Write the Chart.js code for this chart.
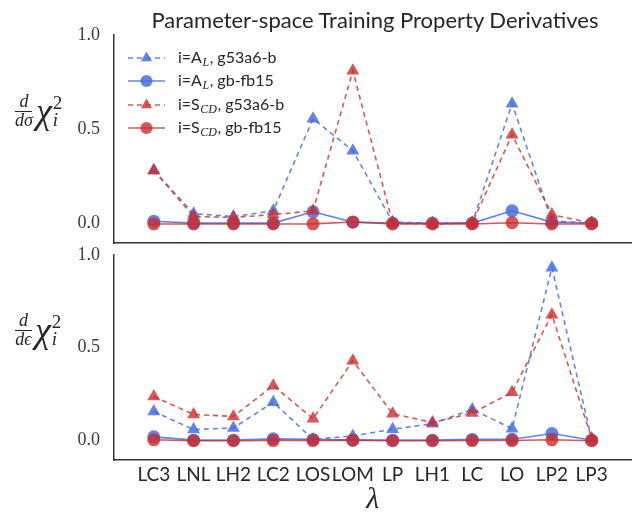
<!DOCTYPE html>
<html>
<head>
<meta charset="utf-8">
<script src="https://cdn.jsdelivr.net/npm/chart.js@4"></script>
<style>
body { margin: 0; background: #fff; width: 639px; height: 515px; position: relative; overflow: hidden; }
canvas { position: absolute; left: 0; }
#topChart { top: 0; }
#bottomChart { top: 238px; }
.title { position: absolute; top: 6px; left: 114px; width: 522px; text-align: center; font: 22px Lato, sans-serif; color: #262626; }
.ylab { position: absolute; display: flex; align-items: center; font-family: "Liberation Serif", serif; font-style: italic; color: #262626; }
.frac { display: inline-flex; flex-direction: column; align-items: center; font-size: 18px; line-height: 17px; }
.num { border-bottom: 1.2px solid #262626; padding: 0 4px 1px; }
.chi { font-size: 36px; margin-left: 3px; }
.ss { display: inline-flex; flex-direction: column; font-size: 19px; line-height: 17px; margin-left: 1px; }
</style>
</head>
<body>
<canvas id="topChart" width="639" height="260"></canvas>
<canvas id="bottomChart" width="639" height="277"></canvas>
<div class="title">Parameter-space Training Property Derivatives</div>
<div class="ylab" style="left:15px; top:90px;">
  <span class="frac"><span class="num">d</span><span>dσ</span></span><span class="chi">χ</span><span class="ss"><span style="font-style:normal">2</span><span>i</span></span>
</div>
<div class="ylab" style="left:15px; top:309px;">
  <span class="frac"><span class="num">d</span><span>dϵ</span></span><span class="chi">χ</span><span class="ss"><span style="font-style:normal">2</span><span>i</span></span>
</div>
<script>
// ------------------ DATA ------------------
const labels = ["LC3", "LNL", "LH2", "LC2", "LOS", "LOM", "LP", "LH1", "LC", "LO", "LP2", "LP3"];
const yTicks = [0, 0.5, 1.0];

// d/dsigma panel
const sigmaAL_g53 = [0.28, 0.05, 0.035, 0.065, 0.555, 0.385, 0.005, 0, 0, 0.635, 0.01, 0];
const sigmaAL_gb = [0.01, 0, 0, 0, 0.06, 0.005, 0, 0, 0, 0.065, 0.005, 0];
const sigmaSCD_g53 = [0.28, 0.035, 0.03, 0.045, 0.065, 0.81, 0, -0.005, 0, 0.47, 0.045, 0];
const sigmaSCD_gb = [-0.005, -0.005, -0.005, -0.005, -0.004, 0.006, -0.005, -0.005, -0.005, 0.002, -0.005, -0.005];

// d/depsilon panel
const epsAL_g53 = [0.155, 0.057, 0.066, 0.205, 0.004, 0.023, 0.059, 0.089, 0.166, 0.062, 0.93, 0.004];
const epsAL_gb = [0.018, 0, 0, 0.007, 0.004, 0, 0, 0, 0.004, 0.005, 0.036, 0];
const epsSCD_g53 = [0.235, 0.139, 0.128, 0.294, 0.116, 0.428, 0.143, 0.095, 0.146, 0.258, 0.677, 0.009];
const epsSCD_gb = [0.002, -0.003, -0.003, -0.002, -0.002, 0, -0.003, -0.003, -0.002, -0.002, 0.002, -0.003];

// ------------------ STYLE ------------------
const BLUE = "rgba(65, 105, 225, 0.82)";
const RED = "rgba(205, 45, 45, 0.8)";
const SPINE = "#333333";

const legendItems = [
    { color: BLUE, dashed: true, marker: "triangle", main: "i=A", sub: "L", rest: ", g53a6-b" },
    { color: BLUE, dashed: false, marker: "circle", main: "i=A", sub: "L", rest: ", gb-fb15" },
    { color: RED, dashed: true, marker: "triangle", main: "i=S", sub: "CD", rest: ", g53a6-b" },
    { color: RED, dashed: false, marker: "circle", main: "i=S", sub: "CD", rest: ", gb-fb15" }
];

function toPoints(values) {
    return values.map((v, i) => ({ x: i, y: v }));
}

function makeDatasets(alG53, alGb, scdG53, scdGb) {
    const series = [alG53, alGb, scdG53, scdGb];
    return series.map((values, idx) => {
        const item = legendItems[idx];
        return {
            data: toPoints(values),
            borderColor: item.color,
            backgroundColor: item.color,
            borderWidth: 1.6,
            borderDash: item.dashed ? [5, 4] : [],
            pointStyle: item.marker,
            pointRadius: item.marker === "triangle" ? 7.5 : 6.5,
            pointBorderWidth: 0,
            pointBackgroundColor: item.color,
            tension: 0,
            order: 3 - idx
        };
    });
}

// legend drawn by hand so the subscripts can be rendered
const legendPlugin = {
    id: "handLegend",
    afterDraw(chart) {
        const ctx = chart.ctx;
        const rowsY = [58, 81, 105, 128];
        legendItems.forEach((item, i) => {
            const y = rowsY[i];
            ctx.save();
            ctx.strokeStyle = item.color;
            ctx.fillStyle = item.color;
            ctx.lineWidth = 1.6;
            ctx.setLineDash(item.dashed ? [5, 4] : []);
            ctx.beginPath();
            ctx.moveTo(128, y);
            ctx.lineTo(165, y);
            ctx.stroke();
            ctx.setLineDash([]);
            Chart.helpers.drawPoint(ctx, {
                pointStyle: item.marker,
                radius: item.marker === "triangle" ? 6.5 : 6,
                rotation: 0,
                borderWidth: 0
            }, 146.5, y);
            ctx.fillStyle = "#262626";
            ctx.textBaseline = "middle";
            ctx.font = "16px Lato, sans-serif";
            let x = 178;
            ctx.fillText(item.main, x, y);
            x += ctx.measureText(item.main).width;
            ctx.font = "italic 12px 'Liberation Serif', serif";
            ctx.fillText(item.sub, x + 0.5, y + 5);
            x += ctx.measureText(item.sub).width + 1;
            ctx.font = "16px Lato, sans-serif";
            ctx.fillText(item.rest, x, y);
            ctx.restore();
        });
    }
};

function yScale() {
    return {
        min: -0.107,
        max: 1.0,
        afterBuildTicks: (scale) => { scale.ticks = yTicks.map(v => ({ value: v })); },
        afterFit: (scale) => { scale.width = 114; },
        grid: { display: false },
        border: { display: true, color: SPINE, width: 1.5 },
        ticks: {
            padding: 6,
            color: "#3a3a3a",
            font: { family: "'Liberation Serif', serif", size: 18 },
            callback: (v) => v.toFixed(1)
        }
    };
}

function xScale(showLabels) {
    return {
        type: "linear",
        min: -1,
        max: 12,
        afterBuildTicks: (scale) => { scale.ticks = labels.map((_, i) => ({ value: i })); },
        afterFit: (scale) => { scale.height = showLabels ? 55 : 0; },
        grid: { display: false },
        border: { display: true, color: SPINE, width: 1.5 },
        title: {
            display: showLabels,
            text: "λ",
            color: "#262626",
            padding: { top: 0, bottom: 0 },
            font: { family: "'Liberation Serif', serif", style: "italic", size: 30, lineHeight: 1.0 }
        },
        ticks: {
            display: showLabels,
            autoSkip: false,
            maxRotation: 0,
            padding: -5,
            color: "#262626",
            font: { family: "Lato, sans-serif", size: 19 },
            callback: (v) => labels[v]
        }
    };
}

function baseOptions(showLabels, padding) {
    return {
        responsive: false,
        animation: false,
        layout: { padding: padding },
        plugins: { legend: { display: false }, tooltip: { enabled: false } },
        scales: { x: xScale(showLabels), y: yScale() }
    };
}

new Chart(document.getElementById("topChart"), {
    type: "line",
    data: { datasets: makeDatasets(sigmaAL_g53, sigmaAL_gb, sigmaSCD_g53, sigmaSCD_gb) },
    options: baseOptions(false, { left: 0, right: 3, top: 35, bottom: 8 }),
    plugins: [legendPlugin]
});

new Chart(document.getElementById("bottomChart"), {
    type: "line",
    data: { datasets: makeDatasets(epsAL_g53, epsAL_gb, epsSCD_g53, epsSCD_gb) },
    options: baseOptions(true, { left: 0, right: 3, top: 3, bottom: 0 })
});
</script>
</body>
</html>
